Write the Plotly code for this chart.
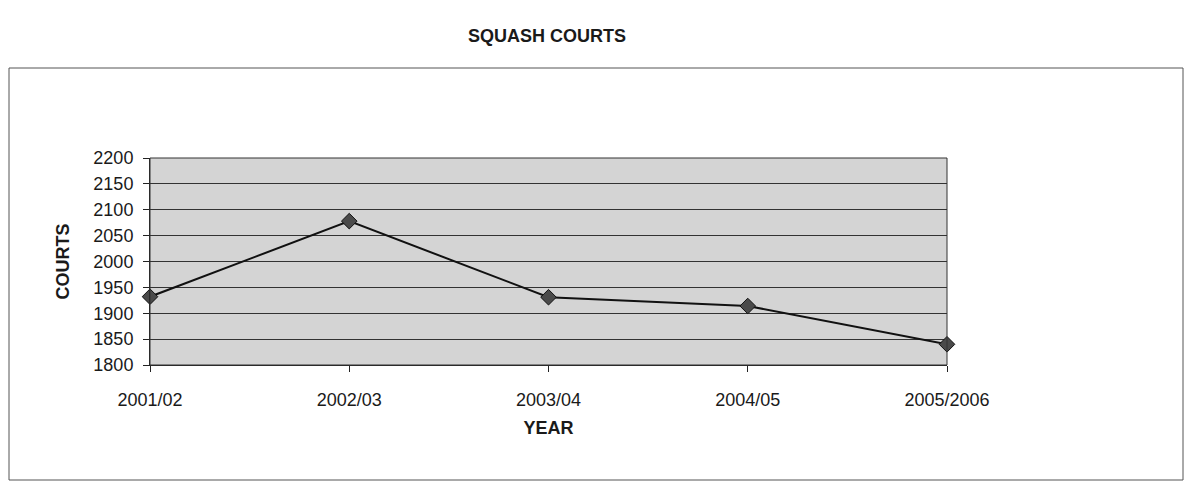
import plotly.graph_objects as go

years = ["2001/02", "2002/03", "2003/04", "2004/05", "2005/2006"]
courts = [1932, 2078, 1931, 1914, 1840]
y_ticks = [1800, 1850, 1900, 1950, 2000, 2050, 2100, 2150, 2200]

# The page body has an 8px margin on every side; keep the figure inside the
# window so that no scrollbars appear.
OFF = 8
W, H = 1193 - 2 * OFF, 494 - 2 * OFF
L, T = 150 - OFF, 158 - OFF
R = W - (947 - OFF)
B = H - (365 - OFF)
pw, ph = W - L - R, H - T - B

def px(x):
    return (x - OFF - L) / pw

def py(y):
    return (H - B - (y - OFF)) / ph

fig = go.Figure()
fig.add_trace(go.Scatter(
    x=list(range(len(years))), y=courts, mode="lines+markers",
    line=dict(color="#111111", width=2),
    marker=dict(symbol="diamond", size=12, color="#4a4a4a",
                line=dict(color="#111111", width=1)),
    showlegend=False, hoverinfo="skip", cliponaxis=False,
))

font = dict(family="Liberation Sans, Arial, sans-serif", color="#1a1a1a")

fig.update_layout(
    width=W, height=H,
    margin=dict(l=L, r=R, t=T, b=B),
    paper_bgcolor="white",
    plot_bgcolor="#d4d4d4",
    font=font,
    title=dict(text="<b>SQUASH COURTS</b>", x=(547 - OFF) / W, xref="container",
               xanchor="center", y=1 - (36 - OFF) / H, yref="container",
               yanchor="middle", font=dict(size=18, **font)),
    xaxis=dict(
        tickmode="array", tickvals=list(range(len(years))), ticktext=years,
        range=[0, len(years) - 1], showgrid=False, zeroline=False,
        showline=True, linecolor="#222222", linewidth=1,
        ticks="outside", ticklen=6, tickcolor="#222222",
        tickfont=dict(size=18, **font), ticklabelstandoff=12,
        title=dict(text="<b>YEAR</b>", font=dict(size=18, **font), standoff=12),
    ),
    yaxis=dict(
        tickmode="array", tickvals=y_ticks, range=[1800, 2200],
        showgrid=True, gridcolor="#333333", gridwidth=1, zeroline=False,
        showline=True, linecolor="#222222", linewidth=1,
        ticks="outside", ticklen=6, tickcolor="#222222",
        tickfont=dict(size=18, **font), ticklabelstandoff=6,
        title=dict(text="<b>COURTS</b>", font=dict(size=18, **font), standoff=19),
    ),
    shapes=[
        dict(type="rect", xref="paper", yref="paper",
             x0=px(9), x1=px(1183), y0=py(480), y1=py(68),
             line=dict(color="#555555", width=1), layer="below"),
        dict(type="rect", xref="paper", yref="paper",
             x0=0, x1=1, y0=0, y1=1,
             line=dict(color="#333333", width=1)),
    ],
)

fig.write_html("out.html")
